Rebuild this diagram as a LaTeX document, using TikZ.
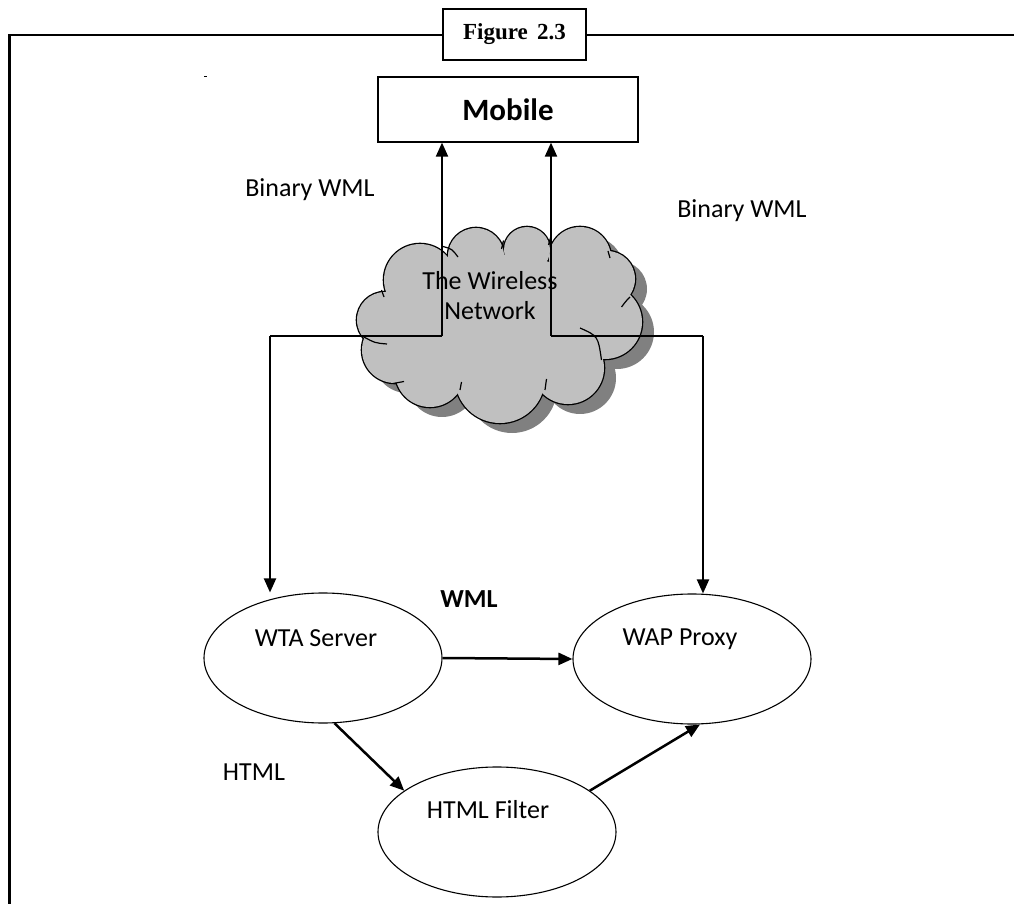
\documentclass[tikz,border=0pt]{standalone}
\usepackage{fontspec}
\setmainfont{Carlito}
\newfontfamily\figfont{Liberation Serif}
\usetikzlibrary{shapes.geometric,arrows.meta}
\definecolor{cloudgray}{HTML}{C0C0C0}
\definecolor{shadowgray}{HTML}{808080}
\begin{document}
\begin{tikzpicture}[x=0.5pt,y=-0.5pt,
  txt/.style={font=\fontsize{13}{16}\selectfont, inner sep=0pt},
  ell/.style={draw, ellipse, line width=0.55pt, minimum width=119pt, minimum height=65pt, inner sep=0pt},
  tipped/.style={-{Triangle[length=7pt,width=6pt]}},
  thinline/.style={line width=0.55pt},
  vline/.style={line width=1pt},
  boldline/.style={line width=1.25pt},
  innerarc/.style={line width=0.6pt}
]
\useasboundingbox (0,0) rectangle (1014,904);
% frame
\draw[line width=1.25pt] (9.5,904) -- (9.5,35) -- (1014,35);
\node[draw, fill=white, line width=0.75pt, minimum width=71.5pt, minimum height=25.5pt, inner sep=0pt,
      font=\figfont\bfseries\fontsize{11.5}{13}\selectfont] (fig) at (514.5,34.5) {Figure\hspace{0.4em}2.3};
% tiny mark
\draw[line width=0.4pt] (204,76) -- (207,76);
% mobile
\node[draw, line width=0.6pt, minimum width=130pt, minimum height=32.5pt, inner sep=0pt,
      font=\bfseries\fontsize{15.5}{18}\selectfont] (mob) at (508,109.5) {Mobile};
% cloud (union of puffs): shadow, outline, fill
\def\puffs{385/320/28, 395/350/33, 430/372/35, 500/378/45, 568/368/36, 605/322/37, 607/279/28, 580/258/31, 527/250/23, 476/256/28, 420/280/36}
\begin{scope}[shift={(12,10)}]
  \foreach \cx/\cy/\r in \puffs { \fill[shadowgray] (\cx,\cy) circle[radius=\r]; }
  \fill[shadowgray] (500,315) ellipse[x radius=105, y radius=60];
\end{scope}
\foreach \cx/\cy/\r in \puffs { \draw[line width=1.3pt] (\cx,\cy) circle[radius=\r]; }
\foreach \cx/\cy/\r in \puffs { \fill[cloudgray] (\cx,\cy) circle[radius=\r]; }
\fill[cloudgray] (500,315) ellipse[x radius=105, y radius=60];
% inner arcs of the cloud
\draw[innerarc] (443,246.5) .. controls (452,249) .. (458,257);
\draw[innerarc] (503.5,240.5) .. controls (502,244) .. (501.5,249);
\draw[innerarc] (551,236) .. controls (549,240) .. (548.5,245);
\draw[innerarc] (608,251) .. controls (609,254) .. (610,258);
\draw[innerarc] (630,297) .. controls (626,301) .. (621.5,307);
\draw[innerarc] (580,328) .. controls (598,336) .. (601.5,360);
\draw[innerarc] (545,390) .. controls (545,385) .. (546.5,379);
\draw[innerarc] (460,390) .. controls (460,386) .. (461.5,382);
\draw[innerarc] (404,381.5) .. controls (398,382) .. (393,383.5);
\draw[innerarc] (363,336.5) .. controls (375,343) .. (387,344);
\draw[innerarc] (381.5,290) .. controls (383,293) .. (384,297);
\node[txt, align=center] (cloudtext) at (490,296) {The Wireless\\[-1pt]Network};
% labels
\node[txt] (bwl) at (310,190) {Binary WML};
\node[txt] (bwr) at (742,211) {Binary WML};
\node[txt, font=\bfseries\fontsize{13}{16}\selectfont] (wml) at (469,599) {WML};
\node[txt] (html) at (254,772) {HTML};
% ellipses
\node[ell] (wta) at (323,658) {};
\node[ell] (wap) at (692,659) {};
\node[ell] (filt) at (497,832) {};
\node[txt] (wtat) at (316,638) {WTA Server};
\node[txt] (wapt) at (680,639) {WAP Proxy};
\node[txt] (filtt) at (488,810) {HTML Filter};
% junction coordinates
\coordinate (jL) at (442,336);
\coordinate (jR) at (551,336);
\coordinate (cL) at (270,336);
\coordinate (cR) at (703,336);
% connectors
\draw[vline, tipped] (jL) -- (jL |- mob.south);
\draw[vline, tipped] (jR) -- (jR |- mob.south);
\draw[thinline] (jL) -- (cL);
\draw[thinline] (jR) -- (cR);
\draw[vline, tipped] (cL) -- (cL |- wta.north);
\draw[vline, tipped] (cR) -- (cR |- wap.north);
\draw[boldline, tipped] (wta.east) -- (wap.west);
\draw[boldline, tipped] (wta.-80) -- (filt.156);
\draw[boldline, tipped] (filt.24) -- (wap.-83);
\end{tikzpicture}
\end{document}
